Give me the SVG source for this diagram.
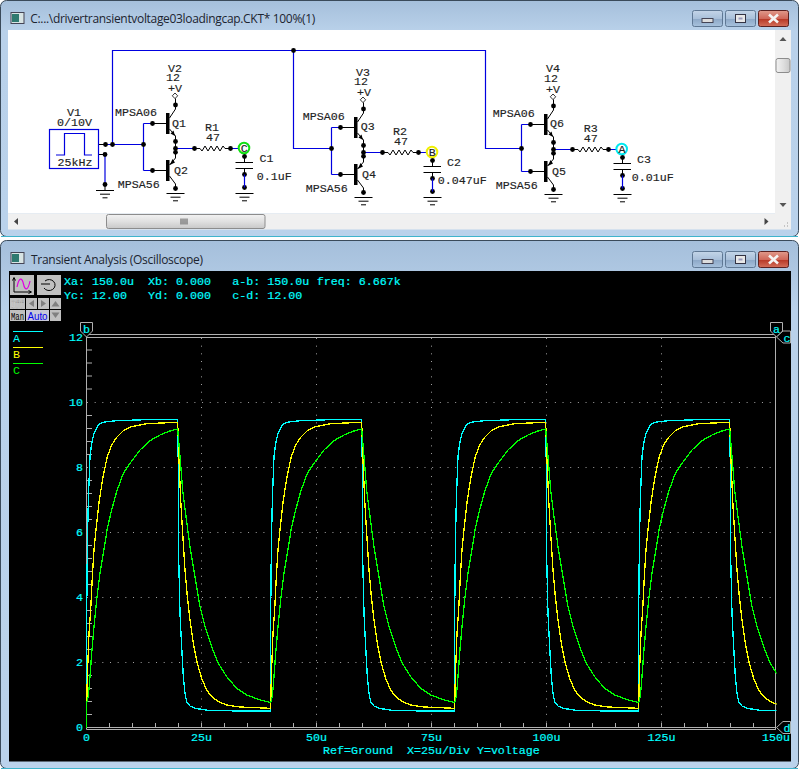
<svg xmlns="http://www.w3.org/2000/svg" width="799" height="770" viewBox="0 0 799 770">
<style>
text{font-family:"Liberation Mono","DejaVu Sans Mono",monospace;font-size:11.67px;white-space:pre}
.l{fill:#222;stroke:#222;stroke-width:.15}
.c{fill:#00ffff;stroke:#00ffff;stroke-width:.2}
.e{text-anchor:end}
.m{text-anchor:middle}
.t{font-family:"Open Sans","Noto Sans",sans-serif;font-size:12px;fill:#1c2430;stroke:none}
.w{fill:none;stroke:#0000e0;stroke-width:1.2}
.k{fill:none;stroke:#000;stroke-width:1}
.d{fill:#000}
.grid{fill:none;stroke:#a0a0a0;stroke-width:1;stroke-dasharray:1 6.67}
.ax{fill:none;stroke:#b0b0b0;stroke-width:1}
.mk{fill:#000;stroke:#b0b0b0;stroke-width:1}
.btn{fill:#c0c0c0}
.tr{fill:none;shape-rendering:crispEdges;stroke-width:3.9}
.frame{fill:url(#fr)}
.wb{stroke:#5f7894;stroke-width:1;fill:url(#wbg)}
.cb{stroke:#5a2020;stroke-width:1;fill:url(#cbg)}
</style>
<defs>
<linearGradient id="fr" x1="0" y1="0" x2="0" y2="1"><stop offset="0" stop-color="#a5bfdb"/><stop offset="0.13" stop-color="#b9d1ea"/><stop offset="1" stop-color="#bad2eb"/></linearGradient>
<linearGradient id="wbg" x1="0" y1="0" x2="0" y2="1"><stop offset="0" stop-color="#c4d5e8"/><stop offset="0.5" stop-color="#a9c0da"/><stop offset="0.55" stop-color="#8ea9c8"/><stop offset="1" stop-color="#a8c2dd"/></linearGradient>
<linearGradient id="cbg" x1="0" y1="0" x2="0" y2="1"><stop offset="0" stop-color="#e09a8c"/><stop offset="0.5" stop-color="#d0685a"/><stop offset="0.55" stop-color="#b83a28"/><stop offset="1" stop-color="#d4705c"/></linearGradient>
<linearGradient id="sb" x1="0" y1="0" x2="0" y2="1"><stop offset="0" stop-color="#f2f2f2"/><stop offset="0.5" stop-color="#e0e0e0"/><stop offset="1" stop-color="#c8c8c8"/></linearGradient>
<linearGradient id="sv" x1="0" y1="0" x2="1" y2="0"><stop offset="0" stop-color="#f2f2f2"/><stop offset="0.5" stop-color="#e0e0e0"/><stop offset="1" stop-color="#c8c8c8"/></linearGradient>
<g id="gnd"><path class="k" d="M-9 0H9M-5 3.7H5M-2.5 7.3H2.5"/></g>
<g id="npn"><rect x="166" y="113" width="3.5" height="21" fill="#000"/><path class="k" d="M152.5 123.5H166M169.5 118L175.5 109V105M169.5 129L175.5 136V141.5"/><path d="M175 136L170.5 133.5L173.5 130.5Z" fill="#000"/><circle class="d" cx="152.5" cy="123.5" r="2.4"/><circle class="d" cx="175.5" cy="105" r="2.4"/><circle class="d" cx="175.5" cy="141.5" r="2.4"/></g>
<g id="pnp"><rect x="166" y="160" width="3.5" height="21" fill="#000"/><path class="k" d="M152.5 170.5H166M169.5 165L175.5 158V152.3M169.5 176L175.5 184V188.5"/><path d="M169.8 165L175 162.5L172.5 159Z" fill="#000"/><circle class="d" cx="152.5" cy="170.5" r="2.4"/><circle class="d" cx="175.5" cy="152.3" r="2.4"/><circle class="d" cx="175.5" cy="188.5" r="2.4"/><use href="#gnd" x="175.5" y="193.5"/></g>
<g id="vcc"><path d="M175 93L177.7 95.8L175 98.6L172.3 95.8Z" fill="#fff" stroke="#000" stroke-width="0.8"/><path class="k" d="M175.5 98.5V105"/></g>
<g id="res"><path class="k" d="M194.5 148.5H200L202 151L205 146L208 151L211 146L214 151L217 146L220 151L223 146L225 148.5H230.5"/><circle class="d" cx="194.5" cy="148.5" r="2.4"/><circle class="d" cx="230.5" cy="148.5" r="2.4"/></g>
<g id="cap"><path class="k" d="M244.5 156.5V162.5M235.5 162.5H253M235.5 168.5H253M244.5 168.5V174.5"/><circle class="d" cx="244.5" cy="156.5" r="2.4"/><circle class="d" cx="244.5" cy="174.5" r="2.4"/><circle class="d" cx="244.5" cy="187.5" r="2.4"/><path class="w" d="M244.5 174.5V187.5"/><use href="#gnd" x="244.5" y="193.5"/></g>
<path id="pa" d="M50 933L50 650L52 440L55 300L60 170L65 130L72 100L85 75L95 68L110 65L140 62L230 59L323 58L325 210L326 470L330 640L335 740L340 830L345 880L350 905L360 918L375 925L415 931L505 933L602 933"/>
<path id="pb" d="M50 925L52 830L57 700L62 630L67 530L72 450L80 370L88 300L100 225L112 170L125 135L140 112L160 92L185 80L230 71L323 67L327 180L332 300L338 400L345 510L352 590L360 660L370 730L382 790L395 835L410 870L425 890L445 905L470 915L510 921L602 925"/>
<path id="pc" d="M50 908L55 890L60 830L65 760L72 680L80 600L90 520L100 460L112 385L125 330L140 275L160 220L180 190L210 150L240 122L270 105L300 93L323 87L330 170L338 270L348 350L360 440L375 530L390 620L405 680L425 740L445 790L470 830L500 865L530 885L565 898L602 908"/>
<clipPath id="plot"><rect x="86" y="338" width="690.5" height="392"/></clipPath>
</defs>
<rect width="799" height="770" fill="#fff"/>

<g id="circuit-window">
<rect x="0.5" y="0.5" width="798" height="236" rx="6" class="frame" stroke="#3a4a5a" stroke-width="1"/>
<path d="M1 236.5H798" stroke="#3fb4cc" stroke-width="1"/>
<rect x="8" y="30" width="767" height="183.5" fill="#fff"/>
<rect x="8" y="213.5" width="783" height="16" fill="#f0f0f0"/>
<rect x="775" y="30" width="16" height="184" fill="#f0f0f0"/>
<rect x="106.5" y="214.5" width="158.5" height="14" rx="2" fill="url(#sb)" stroke="#8c8c8c"/>
<path d="M181 218.5V224.5M183 218.5V224.5M185 218.5V224.5M187 218.5V224.5" stroke="#555" stroke-width="1"/>
<path d="M18 218L14 221.5L18 225Z" fill="#444"/>
<path d="M764.5 218L768.5 221.5L764.5 225Z" fill="#444"/>
<path d="M783 37L779.5 41H786.5Z" fill="#555"/>
<path d="M783 207L779.5 203H786.5Z" fill="#555"/>
<rect x="776" y="58.5" width="14" height="14" rx="2" fill="url(#sv)" stroke="#8c8c8c"/>
<path d="M787 226h1M784 226h1M787 223h1" stroke="#999"/>
<rect x="11" y="12.5" width="13" height="11" fill="#d8e4e4" stroke="#445"/><rect x="12" y="14" width="7" height="8" fill="#2f7a70"/>
<text class="t" x="30.3" y="23" textLength="285">C:...\drivertransientvoltage03loadingcap.CKT* 100%(1)</text>
<rect class="wb" x="692.5" y="10.5" width="30" height="16" rx="2"/><rect x="702" y="18.5" width="11" height="4" fill="#ddd" stroke="#445"/>
<rect class="wb" x="725.5" y="10.5" width="30" height="16" rx="2"/><rect x="735.5" y="14.5" width="10" height="8" fill="#e8e8e8" stroke="#334"/><rect x="738.5" y="17.5" width="4" height="2" fill="#99b"/>
<rect class="cb" x="758.5" y="10.5" width="30" height="16" rx="2"/><path d="M769 14.5L778 22.5M778 14.5L769 22.5" stroke="#f4f4f4" stroke-width="2.6"/>
</g>

<g id="connectors">
<path class="k" d="M98.5 144.5H105.5M98.5 154.5H105"/>
<path class="w" d="M105.5 144.5H143.5M112.5 144.5V50.5H485.5V148.5H521.5"/>
<path class="w" d="M105 154.5V184.5"/>
<path class="k" d="M105 184.5V190.5"/>
<path class="w" d="M143.5 123.5V170.5M143.5 123.5H152.5M143.5 170.5H152.5"/>
<path class="w" d="M293.5 50.5V148.5H331.5"/>
<path class="w" d="M331.5 127.5V174.5M331.5 127.5H340.5M331.5 174.5H340.5"/>
<path class="w" d="M521.5 124.5V171.5M521.5 124.5H530.5M521.5 171.5H530.5"/>
<path class="w" d="M175.5 148.5H194.5M363.5 152.5H382.5M553.5 149.5H572.5"/>
<path class="w" d="M232 148.5H239M420 152.5H427M610 149.5H616"/>
<path class="k" d="M175.5 141.5V152.3M363.5 145.5V156.3M553.5 142.5V153.3"/>
<path class="k" d="M244.5 153V156.5M432.5 157V160.5M622.5 154V157.5"/>
<g class="d">
<circle cx="105.5" cy="144.5" r="2.4"/><circle cx="112.5" cy="144.5" r="2.4"/><circle cx="105" cy="154.5" r="2.4"/><circle cx="105" cy="184.5" r="2.4"/>
<circle cx="143.5" cy="144.5" r="2.4"/><circle cx="293.5" cy="50.5" r="2.4"/><circle cx="331.5" cy="148.5" r="2.4"/><circle cx="521.5" cy="148.5" r="2.4"/>
<circle cx="175.5" cy="148.5" r="2.4"/><circle cx="363.5" cy="152.5" r="2.4"/><circle cx="553.5" cy="149.5" r="2.4"/>
</g>
</g>

<g id="V1">
<rect x="49.5" y="129.5" width="49" height="39" fill="#fff" stroke="#0000e0" stroke-width="1.2"/>
<path class="w" d="M56 155H64.5V133.5H84.5V155H92"/>
<text class="l" x="67" y="116">V1</text><text class="l" x="57" y="126">0/10V</text><text class="l" x="57.5" y="166">25kHz</text>
<use href="#gnd" x="105" y="190.5"/>
</g>
<g id="V2"><use href="#vcc"/><text class="l" x="168" y="71.5">V2</text><text class="l" x="166" y="81">12</text><text class="l" x="168" y="92">+V</text></g>
<g id="Q1"><use href="#npn"/><text class="l" x="115" y="116">MPSA06</text><text class="l" x="172" y="126.5">Q1</text></g>
<g id="Q2"><use href="#pnp"/><text class="l" x="117.7" y="188">MPSA56</text><text class="l" x="174" y="174">Q2</text></g>
<g id="R1"><use href="#res"/><text class="l" x="205" y="131">R1</text><text class="l" x="206" y="141">47</text></g>
<g id="C1"><use href="#cap"/><text class="l" x="259.5" y="162">C1</text><text class="l" x="256.7" y="180">0.1uF</text></g>
<g id="probe-C"><circle cx="244" cy="148" r="5.3" fill="#fff" stroke="#10e010" stroke-width="2"/><text class="l m" x="244.3" y="152">C</text></g>

<g id="V3"><use href="#vcc" transform="translate(188 4)"/><text class="l" x="356" y="75.5">V3</text><text class="l" x="354" y="85">12</text><text class="l" x="357" y="96">+V</text></g>
<g id="Q3"><use href="#npn" transform="translate(188 4)"/><text class="l" x="302.7" y="120">MPSA06</text><text class="l" x="360.7" y="130">Q3</text></g>
<g id="Q4"><use href="#pnp" transform="translate(188 4)"/><text class="l" x="305.7" y="192">MPSA56</text><text class="l" x="362" y="178">Q4</text></g>
<g id="R2"><use href="#res" transform="translate(188 4)"/><text class="l" x="393" y="135">R2</text><text class="l" x="394" y="145">47</text></g>
<g id="C2"><use href="#cap" transform="translate(188 4)"/><text class="l" x="447" y="166">C2</text><text class="l" x="437.7" y="184">0.047uF</text></g>
<g id="probe-B"><circle cx="432" cy="152" r="5.3" fill="#fff" stroke="#f0f000" stroke-width="2"/><text class="l m" x="432.3" y="156">B</text></g>

<g id="V4"><use href="#vcc" transform="translate(378 1)"/><text class="l" x="546" y="72">V4</text><text class="l" x="544" y="82">12</text><text class="l" x="546" y="93">+V</text></g>
<g id="Q6"><use href="#npn" transform="translate(378 1)"/><text class="l" x="492.7" y="117">MPSA06</text><text class="l" x="550" y="127">Q6</text></g>
<g id="Q5"><use href="#pnp" transform="translate(378 1)"/><text class="l" x="495.7" y="189">MPSA56</text><text class="l" x="552" y="175">Q5</text></g>
<g id="R3"><use href="#res" transform="translate(378 1)"/><text class="l" x="583.7" y="132">R3</text><text class="l" x="583.7" y="142">47</text></g>
<g id="C3"><use href="#cap" transform="translate(378 1)"/><text class="l" x="637" y="163">C3</text><text class="l" x="631.7" y="181">0.01uF</text></g>
<g id="probe-A"><circle cx="621.7" cy="149" r="5.3" fill="#fff" stroke="#00e8f0" stroke-width="2"/><text class="l m" x="622" y="153">A</text></g>

<g id="scope-window">
<rect x="0.5" y="240.5" width="798" height="528" rx="6" class="frame" stroke="#3a4a5a" stroke-width="1"/>
<path d="M1 768.5H798" stroke="#3fb4cc" stroke-width="1"/>
<rect x="9" y="271" width="782" height="490.5" fill="#000"/>
<rect x="11" y="252.5" width="13" height="11" fill="#d8e4e4" stroke="#445"/><rect x="12" y="254" width="7" height="8" fill="#2f7a70"/>
<text class="t" x="31" y="264" textLength="172">Transient Analysis (Oscilloscope)</text>
<rect class="wb" x="692.5" y="251.5" width="30" height="16" rx="2"/><rect x="702" y="259.5" width="11" height="4" fill="#ddd" stroke="#445"/>
<rect class="wb" x="725.5" y="251.5" width="30" height="16" rx="2"/><rect x="735.5" y="255.5" width="10" height="8" fill="#e8e8e8" stroke="#334"/><rect x="738.5" y="258.5" width="4" height="2" fill="#99b"/>
<rect class="cb" x="758.5" y="251.5" width="30" height="16" rx="2"/><path d="M769 255.5L778 263.5M778 255.5L769 263.5" stroke="#f4f4f4" stroke-width="2.6"/>
</g>

<g id="toolbar">
<rect class="btn" x="10" y="275" width="24" height="20"/>
<path d="M14 278V292H31M12.5 280.5L14 277.5L15.5 280.5M28.5 290.5L31.5 292L28.5 293.5" fill="none" stroke="#000"/>
<path d="M17 287C19 277 22 277 23.5 284C25 291 28 291 30 281" fill="none" stroke="#e000e0" stroke-width="1.2"/>
<rect class="btn" x="37" y="275" width="24" height="20"/>
<path d="M45 281A6 5.5 0 1 1 44 288M41 284H50" fill="none" stroke="#000"/>
<rect class="btn" x="10" y="298" width="15" height="11"/><text x="11" y="307.5" textLength="13" lengthAdjust="spacingAndGlyphs" fill="#f2f2f2" style="font-size:10px" stroke="#888" stroke-width="0.3">Off</text>
<rect class="btn" x="26" y="298" width="11" height="11"/><path d="M34 300L29 303.5L34 307Z" fill="#808080"/>
<rect class="btn" x="38" y="298" width="11" height="11"/><path d="M41 300L46 303.5L41 307Z" fill="#808080"/>
<rect class="btn" x="50" y="298" width="11" height="11"/><path d="M51.5 306.5L55.5 301L59.5 306.5Z" fill="#808080"/>
<rect class="btn" x="10" y="310" width="15" height="11"/><text x="11" y="319.5" textLength="13" lengthAdjust="spacingAndGlyphs" fill="#000" style="font-size:10px">Man</text>
<rect x="26" y="310" width="23" height="11" fill="#c8c8d8"/><text x="27.5" y="319.8" textLength="20" lengthAdjust="spacingAndGlyphs" fill="#0000ee" style="font-size:11px;font-family:'Liberation Sans',sans-serif">Auto</text>
<rect class="btn" x="50" y="310" width="11" height="11"/><path d="M51.5 312.5L55.5 318L59.5 312.5Z" fill="#808080"/>
</g>

<g id="readout" class="c">
<text x="64" y="285">Xa: 150.0u</text><text x="148" y="285">Xb: 0.000</text><text x="232.3" y="285">a-b: 150.0u</text><text x="316.7" y="285">freq: 6.667k</text>
<text x="64" y="298.7">Yc: 12.00</text><text x="148" y="298.7">Yd: 0.000</text><text x="232.3" y="298.7">c-d: 12.00</text>
</g>

<g id="legend">
<path d="M13 331.5H43" stroke="#00ffff"/><text x="13" y="342" fill="#00ffff">A</text>
<path d="M13 347.5H43" stroke="#ffff00"/><text x="13" y="358" fill="#ffff00">B</text>
<path d="M13 363.5H43" stroke="#00ff00"/><text x="13" y="374" fill="#00ff00">C</text>
</g>

<g id="plot-area">
<path class="grid" d="M201.5 338V728M316.5 338V728M431.5 338V728M546.5 338V728M661.5 338V728"/>
<path class="grid" d="M87 402.5H776M87 467.5H776M87 532.5H776M87 597.5H776M87 662.5H776"/>
<path class="ax" d="M86.5 334.5H776M86.5 337.5H776M86.5 334.5V729.5M775.5 334.5V729.5M86.5 727.5H776M86.5 729.5H776"/>
<path class="ax" d="M87 350H92M87 363H92M87 376H92M87 389H92M87 415.5H92M87 428.5H92M87 441.5H92M87 454.5H92M87 480.5H92M87 493.5H92M87 506.5H92M87 519.5H92M87 545.5H92M87 558.5H92M87 571.5H92M87 584.5H92M87 610.5H92M87 623.5H92M87 636.5H92M87 649.5H92M87 675.5H92M87 688.5H92M87 701.5H92M87 714.5H92"/>
<path class="ax" d="M109.5 727V723M132.5 727V723M155.5 727V723M178.5 727V723M201.5 727V723M224.5 727V723M247.5 727V723M270.5 727V723M293.5 727V723M316.5 727V723M339.5 727V723M362.5 727V723M385.5 727V723M408.5 727V723M431.5 727V723M454.5 727V723M477.5 727V723M500.5 727V723M523.5 727V723M546.5 727V723M569.5 727V723M592.5 727V723M615.5 727V723M638.5 727V723M661.5 727V723M684.5 727V723M707.5 727V723M730.5 727V723M753.5 727V723"/>
<g clip-path="url(#plot)">
<g transform="translate(70 400) scale(.33333)">
<g class="tr" stroke="#00ffff"><path d="M50 985V933"/><use href="#pa"/><use href="#pa" x="552"/><use href="#pa" x="1104"/><use href="#pa" x="1656"/></g>
<g class="tr" stroke="#ffff00"><path d="M50 985V925"/><use href="#pb"/><use href="#pb" x="552"/><use href="#pb" x="1104"/><use href="#pb" x="1656"/></g>
<g class="tr" stroke="#00ff00"><path d="M50 985V908"/><use href="#pc"/><use href="#pc" x="552"/><use href="#pc" x="1104"/><use href="#pc" x="1656"/></g>
</g>
</g>
<g class="c">
<text class="e" x="83" y="341">12</text><text class="e" x="83" y="406">10</text><text class="e" x="83" y="471">8</text><text class="e" x="83" y="536">6</text><text class="e" x="83" y="601">4</text><text class="e" x="83" y="666">2</text><text class="e" x="83" y="731">0</text>
<text class="m" x="86.5" y="741">0</text><text class="m" x="201.5" y="741">25u</text><text class="m" x="316.5" y="741">50u</text><text class="m" x="431.5" y="741">75u</text><text class="m" x="546.5" y="741">100u</text><text class="m" x="661.5" y="741">125u</text><text class="m" x="776" y="741">150u</text>
<text x="323" y="754">Ref=Ground  X=25u/Div Y=voltage</text>
</g>
<g id="cursors">
<path class="mk" d="M80.5 322.5H92.5V331L86.5 337L80.5 331Z"/><text class="c m" x="86.5" y="333">b</text>
<path class="mk" d="M770.5 322.5H782.5V331L776.5 337L770.5 331Z"/><text class="c m" x="776.5" y="333">a</text>
<path class="mk" d="M776.5 337L783 331H790.5V343H783Z"/><text class="c m" x="787" y="341.5">c</text>
<path class="mk" d="M776.5 727.5L783 721.5H790.5V733.5H783Z"/><text class="c m" x="787" y="732">d</text>
</g>
</g>
</svg>
